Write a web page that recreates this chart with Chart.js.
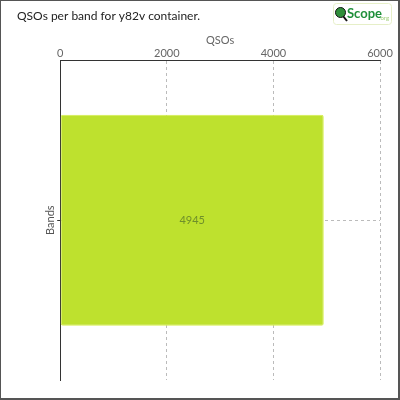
<!DOCTYPE html>
<html lang="en">
<head>
    <meta charset="UTF-8">
    <title>QSOs per band</title>
    <script src="https://cdn.jsdelivr.net/npm/chart.js"></script>
    <style>
        html, body { margin: 0; padding: 0; background: #fff; }
        #wrap {
            width: 400px; height: 400px; box-sizing: border-box;
            border-left: 1px solid #555; border-top: 1px solid #555;
            border-right: 2px solid #555; border-bottom: 2px solid #555;
        }
        #wrap canvas { display: block; }
    </style>
</head>
<body>
    <div id="wrap"><canvas id="bandChart" width="397" height="397"></canvas></div>

    <script>
        // chart data
        const chartTitle = 'QSOs per band for y82v container.';
        const bands = [''];
        const qsos = [4945];
        const xTicks = [0, 2000, 4000, 6000];

        const FONT = 'Lato, "Open Sans", sans-serif';

        // title, logo and value label drawn on the canvas
        const extras = {
            id: 'extras',
            afterDatasetsDraw(chart) {
                const ctx = chart.ctx;
                const meta = chart.getDatasetMeta(0);
                ctx.save();
                ctx.font = '11px ' + FONT;
                ctx.fillStyle = '#6f8f2a';
                ctx.textAlign = 'center';
                ctx.textBaseline = 'middle';
                meta.data.forEach((bar, i) => {
                    const cx = (bar.base + bar.x) / 2;
                    ctx.fillText(String(qsos[i]), cx, bar.y);
                });
                ctx.restore();
            },
            afterDraw(chart) {
                const ctx = chart.ctx;
                ctx.save();
                // chart title
                ctx.font = '12px ' + FONT;
                ctx.fillStyle = '#222';
                ctx.textBaseline = 'middle';
                ctx.fillText(chartTitle, 16, 15);

                // logo box
                ctx.strokeStyle = '#e6efc8';
                ctx.lineWidth = 1;
                ctx.beginPath();
                ctx.roundRect(332.5, 2.5, 58, 21, 3);
                ctx.stroke();
                // globe + magnifier
                ctx.strokeStyle = '#111';
                ctx.lineWidth = 2;
                ctx.beginPath();
                ctx.moveTo(342, 15);
                ctx.lineTo(346, 20);
                ctx.stroke();
                ctx.fillStyle = '#2f8f3a';
                ctx.beginPath();
                ctx.arc(339.5, 11.5, 5, 0, Math.PI * 2);
                ctx.fill();
                ctx.lineWidth = 1;
                ctx.stroke();
                ctx.fillStyle = '#1f8f3a';
                ctx.font = 'bold 13px ' + FONT;
                ctx.textBaseline = 'alphabetic';
                ctx.fillText('Scope', 346, 17);
                ctx.fillStyle = '#9fcf7a';
                ctx.font = '6px ' + FONT;
                ctx.fillText('.org', 378, 19);
                ctx.restore();
            }
        };

        const ctx = document.getElementById('bandChart').getContext('2d');
        new Chart(ctx, {
            type: 'bar',
            data: {
                labels: bands,
                datasets: [{
                    label: 'QSOs',
                    data: qsos,
                    backgroundColor: '#bee12e',
                    borderColor: '#d6ee4c',
                    borderWidth: 1,
                    borderRadius: 2,
                    borderSkipped: false,
                    barPercentage: 0.66,
                    categoryPercentage: 1
                }]
            },
            options: {
                indexAxis: 'y',
                responsive: false,
                animation: false,
                layout: { padding: { top: 33, left: 43, right: 18, bottom: 18 } },
                plugins: {
                    legend: { display: false },
                    title: { display: false },
                    tooltip: { enabled: false }
                },
                scales: {
                    x: {
                        position: 'top',
                        min: 0,
                        max: 6000,
                        afterBuildTicks(scale) {
                            scale.ticks = xTicks.map(v => ({ value: v }));
                        },
                        title: {
                            display: true,
                            text: 'QSOs',
                            color: '#666',
                            font: { family: FONT, size: 11 },
                            padding: { top: 0, bottom: 0 }
                        },
                        ticks: {
                            color: '#666',
                            font: { family: FONT, size: 11 },
                            padding: 0,
                            callback: v => String(v)
                        },
                        grid: {
                            color: '#bbb',
                            drawTicks: false
                        },
                        border: { display: true, color: '#333', dash: [3, 3] }
                    },
                    y: {
                        title: {
                            display: true,
                            text: 'Bands',
                            color: '#555',
                            font: { family: FONT, size: 11 },
                            padding: { top: 0, bottom: 0 }
                        },
                        ticks: { display: true, padding: 0 },
                        grid: {
                            offset: false,
                            color: '#bbb',
                            tickColor: '#333',
                            tickLength: 3,
                            tickBorderDash: []
                        },
                        border: { display: true, color: '#333', dash: [3, 3] }
                    }
                }
            },
            plugins: [extras]
        });
    </script>
</body>
</html>
